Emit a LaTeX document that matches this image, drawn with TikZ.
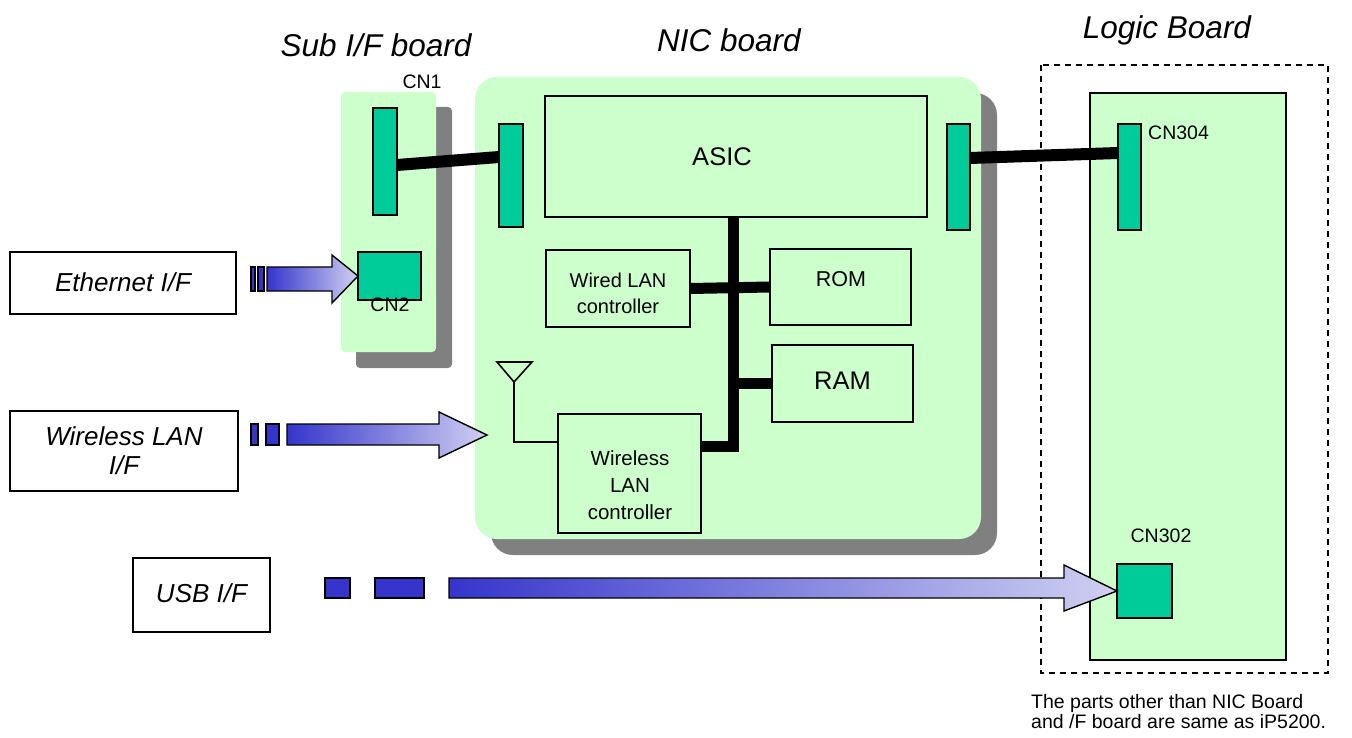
\documentclass[tikz,border=0pt]{standalone}
\usepackage{fontspec}
\setmainfont{Liberation Sans}
\definecolor{lg}{HTML}{CCFFCC}
\definecolor{cng}{HTML}{00CC99}
\definecolor{shd}{HTML}{808080}
\definecolor{barb}{HTML}{3535CC}
\definecolor{arrl}{HTML}{D0D0F2}
\begin{document}
\begin{tikzpicture}[x=1pt,y=-1pt,
  box/.style={draw, line width=1.6pt, fill=lg, inner sep=0pt, outer sep=0pt, anchor=north west, align=center},
  ifbox/.style={draw, line width=1.4pt, fill=white, inner sep=0pt, outer sep=0pt, anchor=north west, align=center, font=\fontsize{26}{29}\selectfont\itshape},
  conn/.style={draw, line width=1.6pt, fill=cng, inner sep=0pt, outer sep=0pt, anchor=north west},
  bus/.style={line width=11pt, line join=miter},
  title/.style={font=\fontsize{31.5}{34}\selectfont\itshape, inner sep=0pt},
  lbl/.style={font=\fontsize{19.5}{21}\selectfont, inner sep=0pt},
  ctl/.style={font=\fontsize{20.5}{26.5}\selectfont, inner sep=0pt, align=center},
  bar/.style={draw, line width=1.4pt, fill=barb},
  fatarrow/.style={draw, line width=1.4pt, left color=barb, right color=arrl}
]
\useasboundingbox (0,0) rectangle (1352,738);
% titles
\node[title] (tsub) at (376,45) {Sub I/F board};
\node[title] (tnic) at (729,40) {NIC board};
\node[title] (tlog) at (1167,30) {Logic Board};

% Sub I/F board
\fill[shd, rounded corners=4pt] (356,107) rectangle (452,368);
\fill[lg, rounded corners=4pt] (341,92) rectangle (436,352);
% NIC board
\fill[shd, rounded corners=22pt] (491,93) rectangle (997,555);
\fill[lg, rounded corners=22pt] (475,77) rectangle (981,539);

% Logic board
\draw[line width=1.4pt, dash pattern=on 6pt off 5pt] (1041,65) rectangle (1328,673);
\node[box, minimum width=196pt, minimum height=567pt] (logic) at (1090,93) {};

% connectors
\node[conn, minimum width=24pt, minimum height=107pt] (cn1) at (373,108) {};
\node[conn, minimum width=63pt, minimum height=48pt] (cn2) at (358,252) {};
\node[conn, minimum width=24pt, minimum height=103pt] (nicl) at (499,124) {};
\node[conn, minimum width=23pt, minimum height=106pt] (nicr) at (947,124) {};
\node[conn, minimum width=23pt, minimum height=106pt] (cn304) at (1118,124) {};
\node[conn, minimum width=55pt, minimum height=54pt] (cn302) at (1117,564) {};

\node[lbl] (lcn1) at (422,82) {CN1};
\node[lbl] (lcn2) at (390,305) {CN2};
\node[lbl, anchor=west] (lcn304) at (1148,133) {CN304};
\node[lbl] (lcn302) at (1161,536) {CN302};

% NIC internal blocks
\node[box, minimum width=382pt, minimum height=121pt, font=\fontsize{25.5}{28}\selectfont] (asic) at (545,96) {\raisebox{-3pt}{ASIC}\hspace*{28pt}};
\node[box, minimum width=144pt, minimum height=77pt] (wired) at (546,250) {};
\node[ctl, font=\fontsize{20}{26}\selectfont] (wiredt) at (618,293) {Wired LAN\\controller};
\node[box, minimum width=141pt, minimum height=76pt] (rom) at (770,249) {};
\node[ctl, font=\fontsize{21.5}{24}\selectfont] (romt) at (841,279) {ROM};
\node[box, minimum width=141pt, minimum height=77pt, font=\fontsize{25.5}{28}\selectfont] (ram) at (772,345) {\raisebox{5pt}{RAM}};
\node[box, minimum width=143pt, minimum height=119pt] (wlc) at (558,414) {};
\node[ctl, font=\fontsize{20.5}{27}\selectfont] (wlct) at (630,485) {Wireless\\LAN\\controller};

% board-to-board cables
\draw[line width=12pt] ([yshift=-3.5pt]cn1.east) -- ([yshift=18.5pt]nicl.west);
\draw[line width=12pt] ([yshift=19pt]nicr.east) -- ([yshift=24pt]cn304.west);

% internal bus
\coordinate (bt) at (733,217);
\coordinate (bb) at (733,446);
\draw[bus] (bt) -- (bb) -- (bb -| wlc.east);
\draw[bus] (wired.east) -- (rom.west);
\draw[bus] (bb |- ram.west) -- (ram.west);

% antenna
\coordinate (ant) at (514,382);
\draw[line width=1.6pt, line join=miter] (497,362) -- (532,362) -- (ant) -- cycle;
\draw[line width=1.6pt] (ant) -- (514,442) -- (514,442 -| wlc.west);

% interface boxes
\node[ifbox, minimum width=226pt, minimum height=62pt] (eth) at (10,252) {\raisebox{2pt}{Ethernet I/F}};
\node[ifbox, minimum width=228pt, minimum height=80pt] (wif) at (10,411) {Wireless LAN\\I/F};
\node[ifbox, minimum width=137pt, minimum height=74pt] (usb) at (133,558) {\raisebox{4pt}{USB I/F}};

% Ethernet arrow
\draw[bar] (251,267) rectangle (255,291);
\draw[bar] (258,267) rectangle (264,291);
\draw[fatarrow] (267,267) -- (332,267) -- (332,255) -- (cn2.west) -- (332,303) -- (332,291) -- (267,291) -- cycle;

% Wireless arrow
\draw[bar] (251,424) rectangle (258,445);
\draw[bar] (266,424) rectangle (279,445);
\draw[fatarrow] (287,424) -- (439,424) -- (439,412) -- (487,435) -- (439,458) -- (439,445) -- (287,445) -- cycle;

% USB arrow
\draw[bar] (325,578) rectangle (350,598);
\draw[bar] (375,578) rectangle (424,598);
\draw[fatarrow] (449,578) -- (1064,578) -- (1064,565) -- (cn302.west) -- (1064,611) -- (1064,598) -- (449,598) -- cycle;

% footnote
\node[lbl, anchor=north west, align=left, font=\fontsize{19.5}{20.5}\selectfont] (note) at (1031,694) {The parts other than NIC Board\\and /F board are same as iP5200.};
\end{tikzpicture}
\end{document}
